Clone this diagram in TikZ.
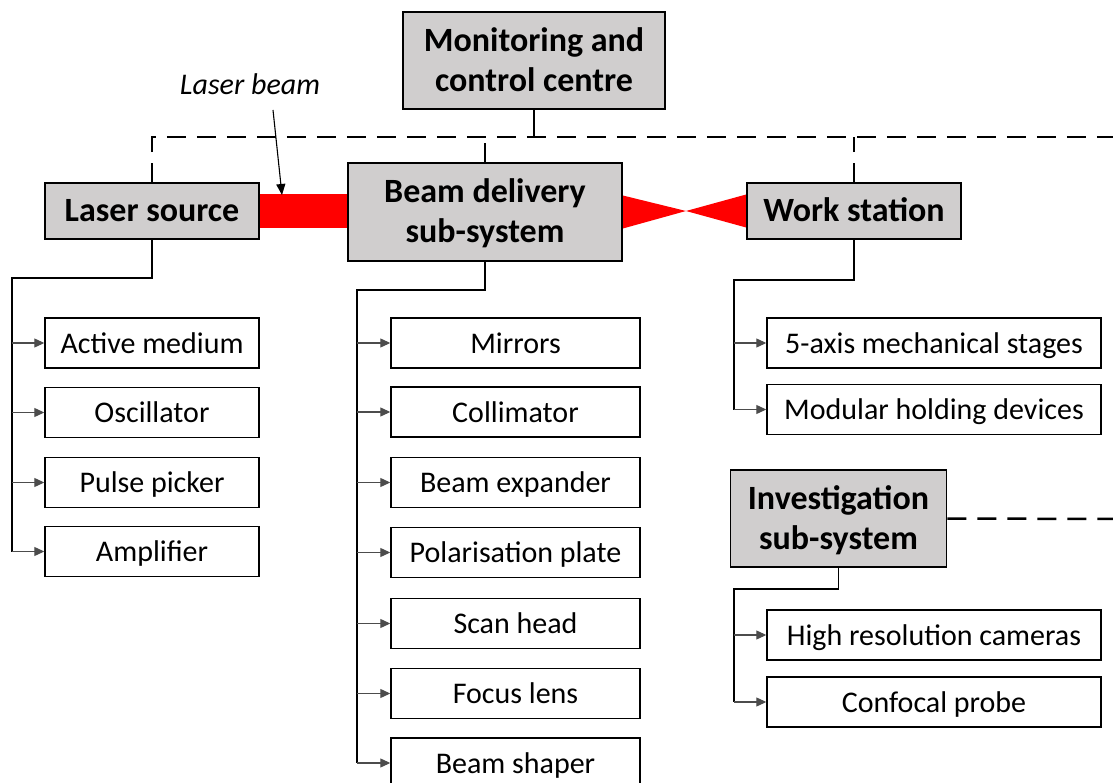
\documentclass[tikz,border=0pt]{standalone}
\usepackage{fontspec}
\setmainfont{Carlito}
\usetikzlibrary{arrows.meta,backgrounds}
\definecolor{hdrgray}{RGB}{208,206,206}
\newcommand\hdtop{\rule{0pt}{30pt}}
\newcommand\hdbot{\rule[-8pt]{0pt}{8pt}}
\begin{document}
\begin{tikzpicture}[x=1pt,y=-1pt,
  hdr/.style={draw=black, line width=1.8pt, fill=hdrgray, inner sep=0pt, align=center,
    font=\fontsize{34}{40}\selectfont\bfseries},
  hdone/.style={hdr, text height=30pt, text depth=8pt},
  item/.style={draw=black, line width=1.4pt, fill=white, inner sep=0pt,
    minimum height=50pt, text height=28pt, text depth=8pt,
    font=\fontsize{30}{36}\selectfont},
  itemL/.style={item, minimum width=214pt},
  itemM/.style={item, minimum width=249pt},
  itemR/.style={item, minimum width=334pt},
  trunk/.style={draw=black, line width=1.5pt},
  branch/.style={draw=black!70, line width=1.1pt, -{Triangle[length=10pt,width=9pt]}},
  dsh/.style={draw=black, line width=2.5pt, dash pattern=on 19pt off 11pt},
  beam/.style={fill=red}
]
\clip (0,0) rectangle (1113,783);

% header boxes
\node[hdr, minimum width=262pt, minimum height=97pt] (mc) at (534,60.5)
  {\hdtop Monitoring and\\control centre\hdbot};
\node[hdone, minimum width=214pt, minimum height=56pt] (ls) at (152,211) {Laser source};
\node[hdr, minimum width=274pt, minimum height=98pt] (bd) at (485,212)
  {\hdtop Beam delivery\\sub-system\hdbot};
\node[hdone, minimum width=214pt, minimum height=56pt] (ws) at (854,211) {Work station};
\node[hdr, minimum width=216pt, minimum height=97pt] (inv) at (838.5,518.5)
  {\hdtop Investigation\\sub-system\hdbot};

% laser beam label
\node[font=\fontsize{30}{36}\selectfont\itshape, anchor=base, inner sep=0pt] (lb) at (250,95) {Laser beam};
\coordinate (lbA) at (273,110);
\coordinate (lbB) at (282,195);
\draw[line width=1.1pt, -{Triangle[length=11pt,width=9pt]}] (lbA) -- (lbB);

% beams
\coordinate (focus) at (686,211);
\begin{pgfonlayer}{background}
\fill[beam] ([yshift=16.5pt]ls.east) rectangle ([yshift=-16.5pt]bd.west);
\fill[beam] ([yshift=16.5pt]bd.east) -- (focus) -- ([yshift=16.5pt]ws.west)
  -- ([yshift=-16.5pt]ws.west) -- (focus) -- ([yshift=-16.5pt]bd.east) -- cycle;
\end{pgfonlayer}

% control bus
\coordinate (busR) at (1120,137);
\draw[dsh] (ls.north) |- (busR);
\draw[dsh] (bd.north) -- (bd.north |- busR);
\draw[dsh] (ws.north) -- (ws.north |- busR);
\draw[line width=2.5pt] (mc.south) -- (mc.south |- busR);
\coordinate (invR) at (1120,519);
\draw[dsh] (inv.east) -- (invR);

% laser source items
\node[itemL] (am)  at (152,343)   {Active medium};
\node[itemL] (osc) at (152,412.5) {Oscillator};
\node[itemL] (pp)  at (152,482.5) {Pulse picker};
\node[itemL] (amp) at (152,551.5) {Amplifier};
\coordinate (lsJ) at (12,278);
\draw[trunk] (ls.south) |- (lsJ) -- (lsJ |- amp.west);
\foreach \n in {am,osc,pp,amp} \draw[branch] (lsJ |- \n.west) -- (\n.west);

% beam delivery items
\node[itemM] (mir)  at (515.5,343)   {Mirrors};
\node[itemM] (col)  at (515.5,412)   {Collimator};
\node[itemM] (bex)  at (515.5,482.5) {Beam expander};
\node[itemM] (pol)  at (515.5,552.5) {Polarisation plate};
\node[itemM] (scan) at (515.5,623.5) {Scan head};
\node[itemM] (foc)  at (515.5,693.5) {Focus lens};
\node[itemM] (bsh)  at (515.5,763)   {Beam shaper};
\coordinate (bdJ) at (357,290);
\draw[trunk] (bd.south) |- (bdJ) -- (bdJ |- bsh.west);
\foreach \n in {mir,col,bex,pol,scan,foc,bsh} \draw[branch] (bdJ |- \n.west) -- (\n.west);

% work station items
\node[itemR] (ax5) at (934,343)   {5-axis mechanical stages};
\node[itemR] (mod) at (934,409.5) {Modular holding devices};
\coordinate (wsJ) at (734,280);
\draw[trunk] (ws.south) |- (wsJ) -- (wsJ |- mod.west);
\foreach \n in {ax5,mod} \draw[branch] (wsJ |- \n.west) -- (\n.west);

% investigation items
\node[itemR] (hrc)  at (934,635) {High resolution cameras};
\node[itemR] (conf) at (934,702) {Confocal probe};
\coordinate (invJ) at (734,589);
\draw[trunk] (inv.south) |- (invJ) -- (invJ |- conf.west);
\foreach \n in {hrc,conf} \draw[branch] (invJ |- \n.west) -- (\n.west);
\end{tikzpicture}
\end{document}
